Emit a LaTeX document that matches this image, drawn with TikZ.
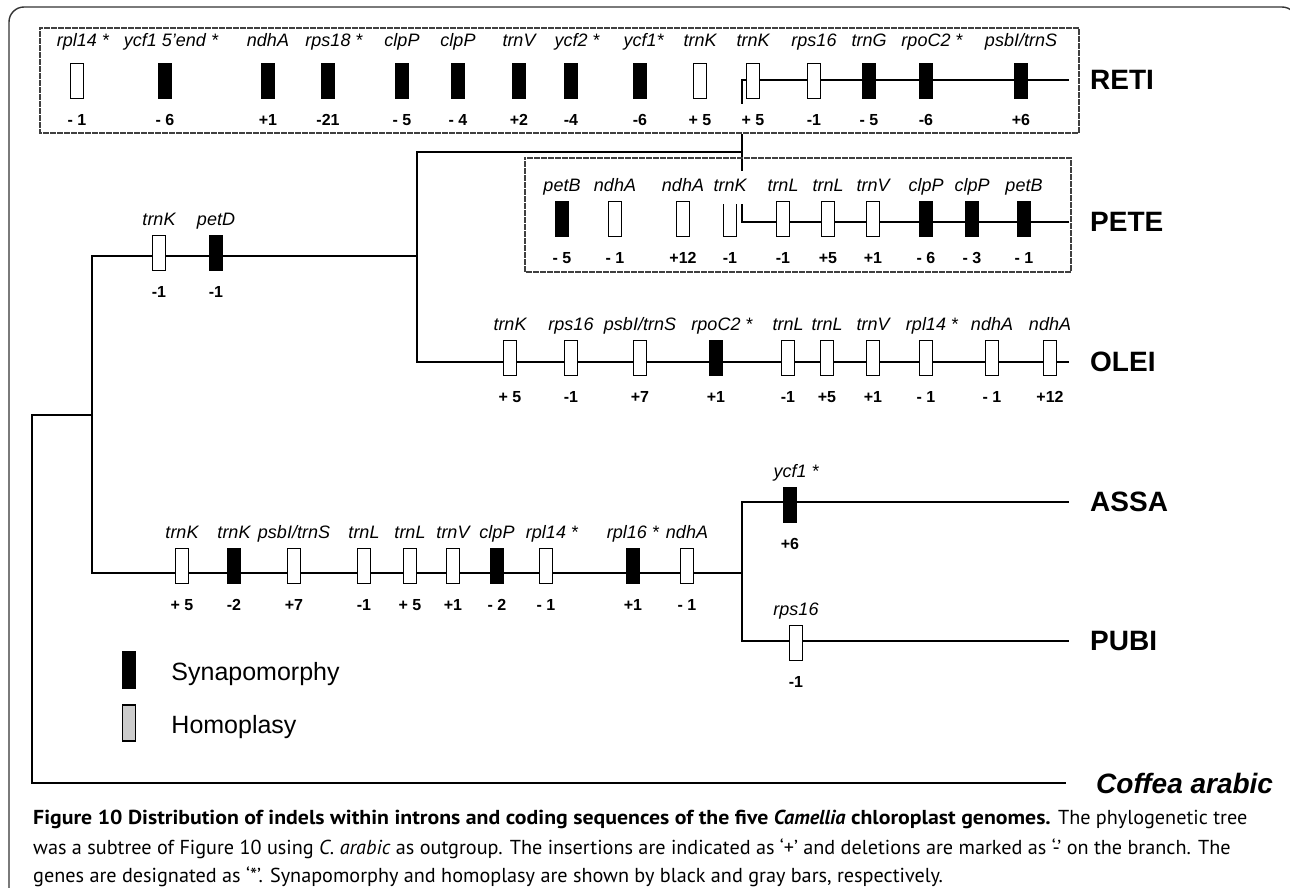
\documentclass[tikz,border=0pt]{standalone}
\usepackage{fontspec}
\setmainfont{Liberation Sans}
\newfontfamily\capfont[BoldFeatures={FakeStretch=1.08}]{PT Sans}
\usepackage{tikz}
\usetikzlibrary{positioning}

\begin{document}
\begin{tikzpicture}[x=1pt,y=-1pt,line cap=rect,
	branch/.style={line width=2.3pt},
	bar/.style={rectangle,draw,line width=1.5pt,minimum width=13pt,minimum height=35pt,inner sep=0pt},
	syn/.style={bar,fill=black},
	hom/.style={bar,fill=white},
	gene/.style={font=\fontsize{18}{18}\selectfont\itshape,fill=white,inner xsep=1pt,inner ysep=0pt,
		text height=13pt,text depth=4pt,yshift=5pt},
	indel/.style={font=\fontsize{16}{16}\selectfont\bfseries,fill=white,inner xsep=1pt,inner ysep=0pt,
		text height=12pt,text depth=0pt,yshift=-14pt},
	gn/.style={label={[gene]above:#1}},
	gnr/.style={label={[gene,yshift=7.5pt]above:#1}},
	ind/.style={label={[indel]below:#1}},
	taxon/.style={font=\fontsize{28}{28}\selectfont\bfseries,anchor=west,inner xsep=22pt,inner ysep=0pt},
	dotbox/.style={dotted,line width=1.5pt,black!75},
	legtext/.style={font=\fontsize{25}{25}\selectfont,inner sep=0pt,yshift=-4pt},
	captext/.style={font=\capfont\fontsize{20.2}{24}\selectfont,anchor=west,inner sep=0pt}]
	
	\useasboundingbox (0,0) rectangle (1290,888);
	\draw[line width=1.4pt,black!80,rounded corners=15pt] (9,895) -- (9,7) -- (1297,7) -- (1297,895);
	
	\node[taxon] (reti) at (1068,80) {RETI};
	\node[taxon] (pete) at (1068,222) {PETE};
	\node[taxon] (olei) at (1068,362) {OLEI};
	\node[taxon] (assa) at (1068,502) {ASSA};
	\node[taxon] (pubi) at (1068,641) {PUBI};
	\node[taxon,inner xsep=31pt,font=\fontsize{28}{28}\selectfont\bfseries\itshape] (coffea) at (1065,783) {Coffea arabic};
	
	\coordinate (root) at (32,415);
	\coordinate (cam) at (92,415);
	\coordinate (up) at (417,256);
	\coordinate (rp) at (742,152);
	\coordinate (ap) at (742,573);
	
	\draw[branch] (cam) -- (root) |- (coffea);
	\draw[branch] (cam) |- (up) |- (rp) |- (reti);
	\draw[branch] (rp) |- (pete);
	\draw[branch] (up) |- (olei);
	\draw[branch] (cam) |- (ap) |- (assa);
	\draw[branch] (ap) |- (pubi);
	
	\node[hom,gnr=rpl14\rlap{ *},ind=- 1] (r1) at (77,81) {};
	\node[syn,gnr=ycf1 5'end\rlap{ *},ind=- 6] (r2) at (165,81) {};
	\node[syn,gnr=ndhA,ind=+1] (r3) at (268,81) {};
	\node[syn,gnr=rps18\rlap{ *},ind=-21] (r4) at (328,81) {};
	\node[syn,gnr=clpP,ind=- 5] (r5) at (402,81) {};
	\node[syn,gnr=clpP,ind=- 4] (r6) at (458,81) {};
	\node[syn,gnr=trnV,ind=+2] (r7) at (519,81) {};
	\node[syn,gnr=ycf2\rlap{ *},ind=-4] (r8) at (571,81) {};
	\node[syn,gnr=ycf1\rlap{*},ind=-6] (r9) at (640,81) {};
	\node[hom,gnr=trnK,ind=+ 5] (r10) at (700,81) {};
	\node[hom,gnr=trnK,label={[indel,inner ysep=9pt,yshift=9pt]below:+ 5}] (r11) at (753,81) {};
	\node[hom,gnr=rps16,ind=-1] (r12) at (814,81) {};
	\node[syn,gnr=trnG,ind=- 5] (r13) at (869,81) {};
	\node[syn,gnr=rpoC2\rlap{ *},ind=-6] (r14) at (926,81) {};
	\node[syn,gnr=psbI/trnS,ind=+6] (r15) at (1021,81) {};
	
	\node[syn,gn=petB,ind=- 5] (p1) at (562,219) {};
	\node[hom,gn=ndhA,ind=- 1] (p2) at (615,219) {};
	\node[hom,gn=ndhA,ind=+12] (p3) at (683,219) {};
	\node[hom,label={[gene,inner ysep=8pt,yshift=-8pt]above:trnK},ind=-1] (p4) at (730,219) {};
	\node[hom,gn=trnL,ind=-1] (p5) at (783,219) {};
	\node[hom,gn=trnL,ind=+5] (p6) at (828,219) {};
	\node[hom,gn=trnV,ind=+1] (p7) at (873,219) {};
	\node[syn,gn=clpP,ind=- 6] (p8) at (926,219) {};
	\node[syn,gn=clpP,ind=- 3] (p9) at (972,219) {};
	\node[syn,gn=petB,ind=- 1] (p10) at (1024,219) {};
	
	\node[hom,gn=trnK,ind=+ 5] (o1) at (510,358) {};
	\node[hom,gn=rps16,ind=-1] (o2) at (571,358) {};
	\node[hom,gn=psbI/trnS,ind=+7] (o3) at (640,358) {};
	\node[syn,gn=rpoC2\rlap{ *},ind=+1] (o4) at (716,358) {};
	\node[hom,gn=trnL,ind=-1] (o5) at (788,358) {};
	\node[hom,gn=trnL,ind=+5] (o6) at (827,358) {};
	\node[hom,gn=trnV,ind=+1] (o7) at (873,358) {};
	\node[hom,gn=rpl14\rlap{ *},ind=- 1] (o8) at (926,358) {};
	\node[hom,gn=ndhA,ind=- 1] (o9) at (992,358) {};
	\node[hom,gn=ndhA,ind=+12] (o10) at (1050,358) {};
	
	\node[hom,gn=trnK,ind=-1] (t1) at (159,253) {};
	\node[syn,gn=petD,ind=-1] (t2) at (216,253) {};
	
	\node[hom,gn=trnK,ind=+ 5] (c1) at (182,566) {};
	\node[syn,gn=trnK,ind=-2] (c2) at (234,566) {};
	\node[hom,gn=psbI/trnS,ind=+7] (c3) at (294,566) {};
	\node[hom,gn=trnL,ind=-1] (c4) at (364,566) {};
	\node[hom,gn=trnL,ind=+ 5] (c5) at (410,566) {};
	\node[hom,gn=trnV,ind=+1] (c6) at (453,566) {};
	\node[syn,gn=clpP,ind=- 2] (c7) at (497,566) {};
	\node[hom,gn=rpl14\rlap{ *},ind=- 1] (c8) at (546,566) {};
	\node[syn,gn=rpl16 *,ind=+1] (c9) at (633,566) {};
	\node[hom,gn=ndhA,ind=- 1] (c10) at (687,566) {};
	
	\node[syn,gn=ycf1\rlap{ *},ind=+6] (a1) at (790,505) {};
	\node[hom,gn=rps16,ind=-1] (b1) at (796,643) {};
	
	\draw[dotbox] (40,28) rectangle (1079,133);
	\draw[dotbox] (525,158) rectangle (1071,272);
	
	\node[syn,minimum height=36pt] (synbar) at (129,670) {};
	\node[legtext,right=35pt of synbar] (syntext) {Synapomorphy};
	\node[bar,fill=gray!40,minimum height=36pt] (hombar) at (129,723) {};
	\node[legtext,right=35pt of hombar] (homtext) {Homoplasy};
	
	\node[captext] (cap1) at (33,819) {\textbf{Figure 10 Distribution of indels within introns and coding sequences of the five \textit{Camellia} chloroplast genomes.} The phylogenetic tree};
	\node[captext] (cap2) at (33,849) {was a subtree of Figure 10 using \textit{C. arabic} as outgroup. The insertions are indicated as ‘+’ and deletions are marked as ‘-’ on the branch. The};
	\node[captext] (cap3) at (33,877) {genes are designated as ‘*’. Synapomorphy and homoplasy are shown by black and gray bars, respectively.};
\end{tikzpicture}
\end{document}
